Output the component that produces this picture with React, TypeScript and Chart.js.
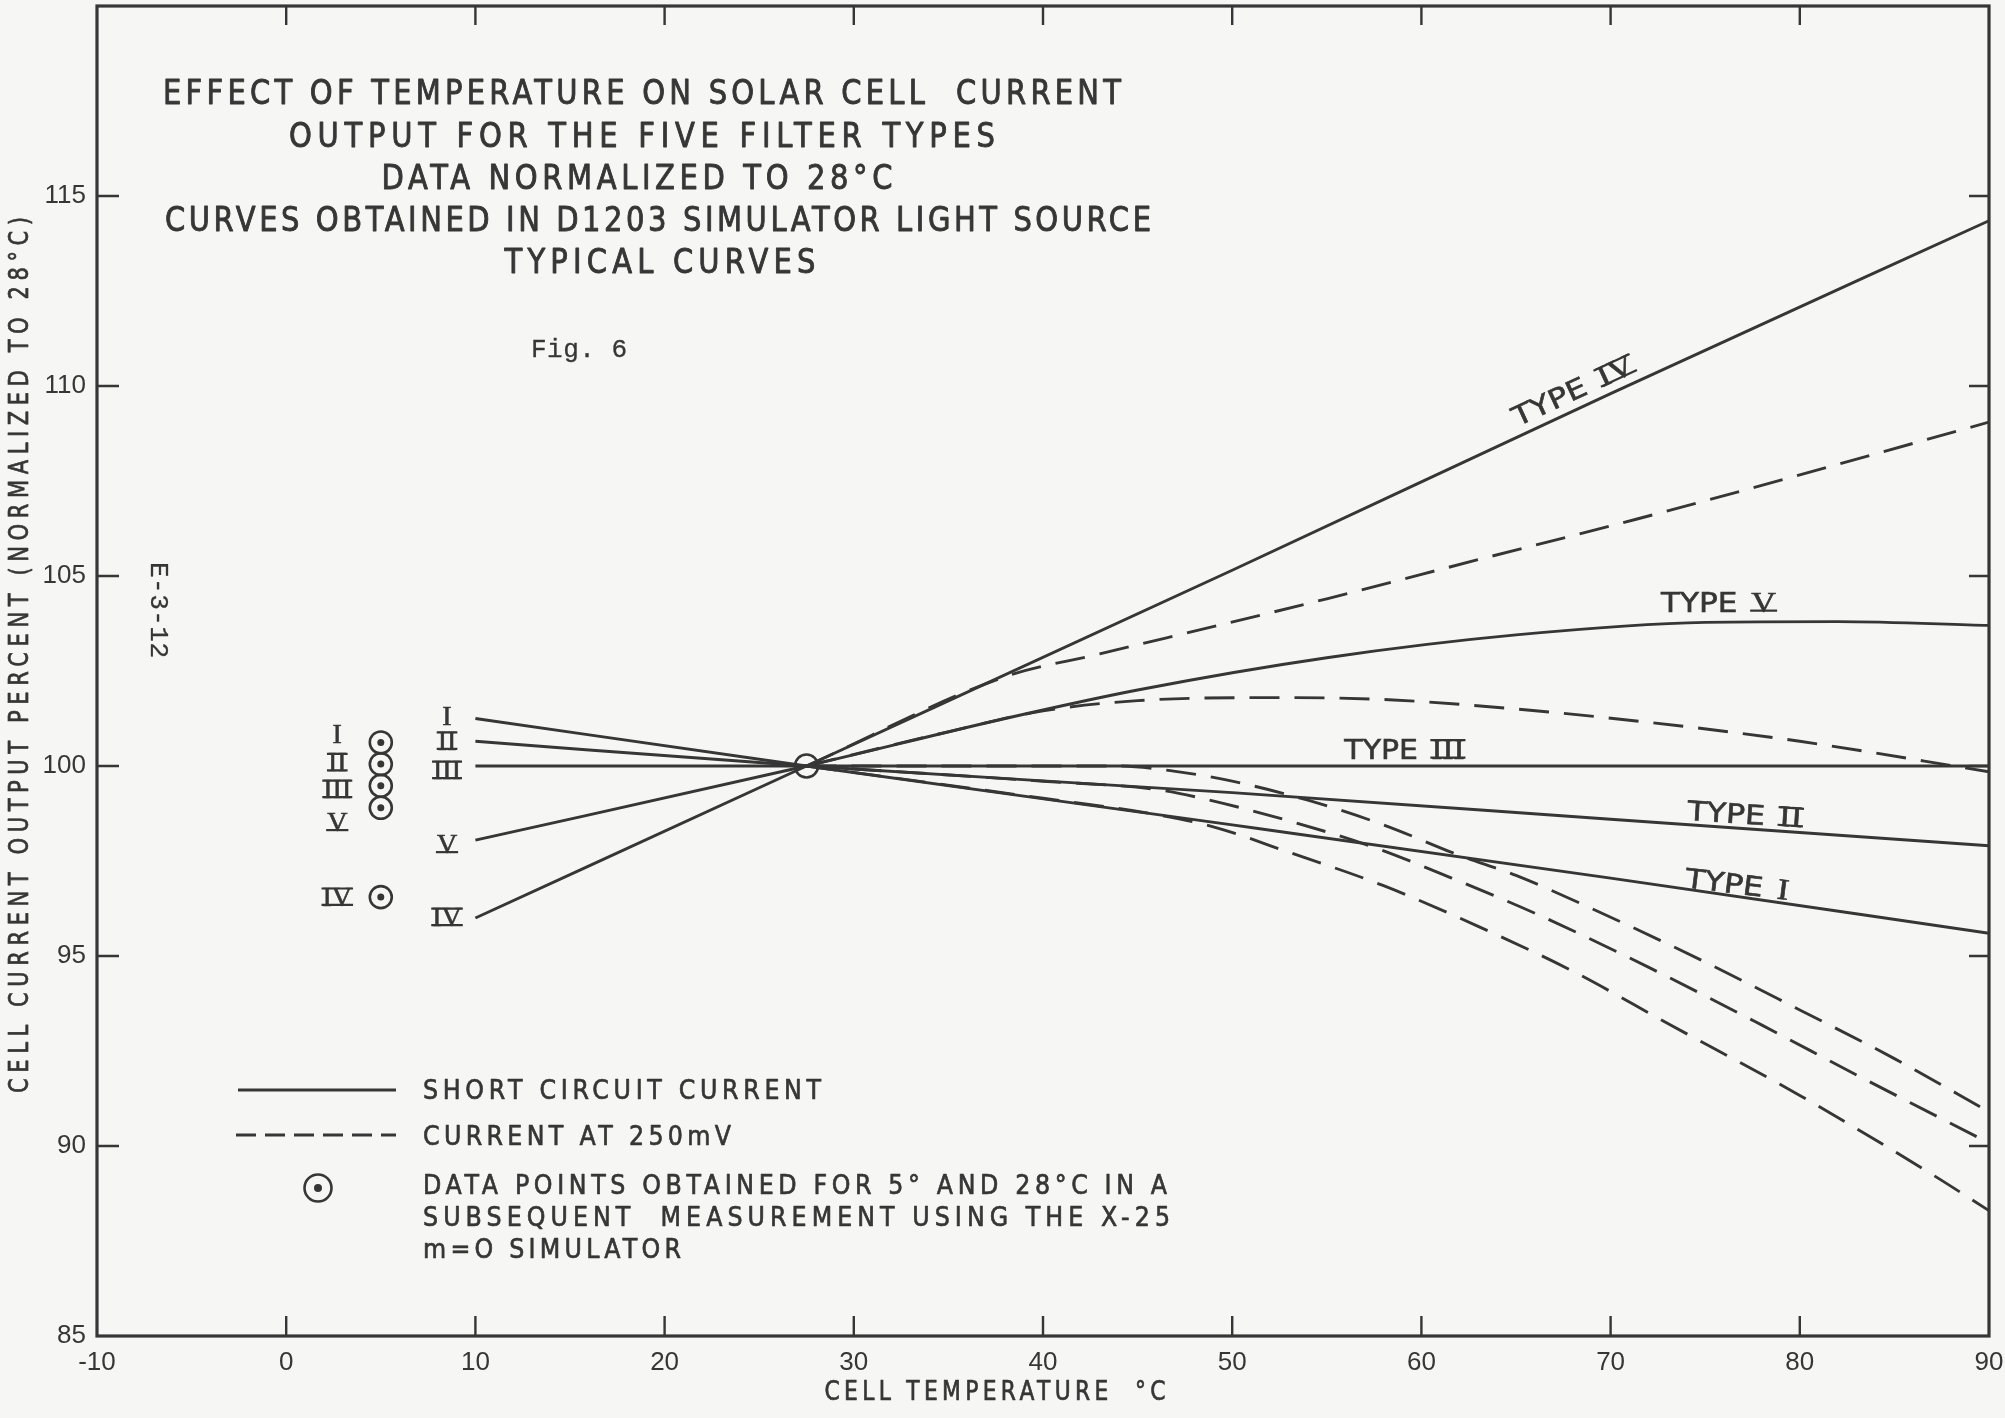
import { useEffect, useRef } from "react";
import { Chart, registerables } from "chart.js";

Chart.register(...registerables);

const INK = "#363636";
const PAPER = "#f6f6f5";
const SANS = '"DejaVu Sans", "Liberation Sans", sans-serif';
const SERIF = '"Liberation Serif", "DejaVu Serif", serif';
const MONO = '"Liberation Mono", "DejaVu Sans Mono", monospace';

// ---- axis ticks ----
const xTickValues = [-10, 0, 10, 20, 30, 40, 50, 60, 70, 80, 90];
const yTickValues = [85, 90, 95, 100, 105, 110, 115];

// ---- short circuit current (solid curves) ----
const scTempI = [10, 27.5, 50, 70, 90];
const scTypeI = [101.25, 100, 98.45, 97.05, 95.6];
const scTempII = [10, 27.5, 50, 70, 90];
const scTypeII = [100.65, 100, 99.3, 98.6, 97.9];
const scTempIII = [10, 27.5, 60, 90];
const scTypeIII = [100, 100, 100, 100];
const scTempIV = [10, 27.5, 50, 70, 90];
const scTypeIV = [96.0, 100, 105.15, 109.8, 114.35];
const scTempV = [10, 27.5, 38, 45, 55, 65, 75, 82, 90];
const scTypeV = [98.05, 100, 101.25, 102.0, 102.85, 103.45, 103.78, 103.8, 103.7];

// ---- current at 250 mV (dashed curves) ----
const mvTempI = [27.5, 40, 46, 49, 53, 58, 63, 68, 73, 80, 87, 90];
const mvTypeI = [100, 99.15, 98.72, 98.4, 97.73, 96.85, 95.78, 94.6, 93.23, 91.33, 89.25, 88.3];
const mvTempII = [27.5, 40, 46, 48.3, 53.4, 57.6, 61.6, 66.2, 72.1, 78, 83, 90];
const mvTypeII = [100, 99.6, 99.38, 99.16, 98.5, 97.84, 97.05, 96.08, 94.68, 93.18, 91.87, 90.08];
const mvTempIII = [27.5, 44, 47, 50, 54, 58, 62, 65, 69, 75, 80, 85, 90];
const mvTypeIII = [100, 100, 99.86, 99.6, 99.1, 98.45, 97.65, 97.12, 96.25, 94.84, 93.58, 92.3, 90.9];
const mvTempIV = [27.5, 38, 43, 55, 63, 71.4, 80, 90];
const mvTypeIV = [100, 102.35, 102.95, 104.4, 105.43, 106.5, 107.66, 109.05];
const mvTempV = [27.5, 35, 40, 45, 52, 58, 65, 72, 80, 90];
const mvTypeV = [100, 100.9, 101.45, 101.72, 101.8, 101.75, 101.5, 101.15, 100.65, 99.85];

// ---- data points of the subsequent X-25 measurement ----
const checkTemps = [5, 5, 5, 5, 5];
const checkValues = [100.62, 100.05, 99.48, 98.9, 96.55];
const refTemps = [27.5];
const refValues = [100];

// ---- numeral labels ----
const checkNumerals = ["I", "II", "III", "V", "IV"];
const checkNumeralValues = [100.85, 100.1, 99.4, 98.53, 96.56];
const curveNumerals = ["I", "II", "III", "V", "IV"];
const curveNumeralValues = [101.32, 100.67, 99.9, 97.95, 96.03];

const typeNumerals = ["IV", "V", "III", "II", "I"];
const typeTemps = [68.0, 75.7, 59.1, 77.1, 76.7];
const typeValues = [109.89, 104.32, 100.45, 98.74, 96.9];

const titleLines = [
  "EFFECT OF TEMPERATURE ON SOLAR CELL  CURRENT",
  "OUTPUT FOR THE FIVE FILTER TYPES",
  "DATA NORMALIZED TO 28°C",
  "CURVES OBTAINED IN D1203 SIMULATOR LIGHT SOURCE",
  "TYPICAL CURVES",
];
const legendTexts = [
  "SHORT CIRCUIT CURRENT",
  "CURRENT AT 250mV",
  "DATA POINTS OBTAINED FOR 5° AND 28°C IN A",
  "SUBSEQUENT  MEASUREMENT USING THE X-25",
  "m=O SIMULATOR",
];

// ---- layout (pixels / styles) ----
const titleLayout = [
  { cx: 642, cy: 92, w: 958 },
  { cx: 642, cy: 135, w: 706 },
  { cx: 637, cy: 177, w: 511 },
  { cx: 658, cy: 219, w: 986 },
  { cx: 660, cy: 261, w: 311 },
];
const legendLayout = [
  { x: 423, cy: 1089, w: 398 },
  { x: 423, cy: 1135, w: 308 },
  { x: 423, cy: 1184, w: 744 },
  { x: 423, cy: 1216, w: 747 },
  { x: 423, cy: 1248, w: 258 },
];
const typeLayout = [
  { angle: -24.9, w: 131 },
  { angle: 0, w: 115 },
  { angle: 0, w: 120 },
  { angle: 3.6, w: 115 },
  { angle: 7.0, w: 104 },
];

const zip = (xs: number[], ys: number[]) => xs.map((x, i) => ({ x, y: ys[i] }));

function solid(label: string, xs: number[], ys: number[]) {
  return {
    label,
    data: zip(xs, ys),
    borderColor: INK,
    borderWidth: 2.9,
    pointRadius: 0,
    cubicInterpolationMode: "monotone",
    fill: false,
  };
}
function dashed(label: string, xs: number[], ys: number[]) {
  return { ...solid(label, xs, ys), borderDash: [30, 15], borderWidth: 2.9 };
}

function fitText(
  ctx: CanvasRenderingContext2D,
  text: string,
  cx: number,
  cy: number,
  width: number,
  size: number,
  family: string,
  squeeze = 0.82,
  angle = 0,
  capRatio = 0.73,
  bold = 0.7
) {
  ctx.save();
  ctx.font = `${size}px ${family}`;
  ctx.textAlign = "left";
  ctx.textBaseline = "alphabetic";
  (ctx as any).letterSpacing = "0px";
  const natural = ctx.measureText(text).width;
  const n = Math.max(text.length - 1, 1);
  const spacing = (width / squeeze - natural) / n;
  (ctx as any).letterSpacing = `${spacing}px`;
  const measured = ctx.measureText(text).width;
  const trailing = (measured - natural) / text.length;
  const eff = measured - trailing;
  const s = width / eff;
  ctx.translate(cx, cy);
  ctx.rotate((angle * Math.PI) / 180);
  ctx.scale(s, 1);
  ctx.fillText(text, -eff / 2, (capRatio * size) / 2);
  if (bold > 0) {
    ctx.lineWidth = bold;
    ctx.lineJoin = "round";
    ctx.strokeText(text, -eff / 2, (capRatio * size) / 2);
  }
  ctx.restore();
}

function drawRoman(ctx: CanvasRenderingContext2D, txt: string, x: number, cy: number, size: number, align: "center" | "left" = "center") {
  ctx.save();
  ctx.font = `${size}px ${SERIF}`;
  ctx.textBaseline = "alphabetic";
  ctx.textAlign = "left";
  const w = ctx.measureText(txt).width;
  const capH = 0.66 * size;
  const x0 = align === "center" ? x - w / 2 : x;
  ctx.fillText(txt, x0, cy + capH / 2);
  ctx.lineWidth = 0.6;
  ctx.strokeText(txt, x0, cy + capH / 2);
  ctx.lineWidth = 2.2;
  ctx.beginPath();
  if (txt.length > 1) {
    ctx.moveTo(x0 - 1, cy - capH / 2 + 1);
    ctx.lineTo(x0 + w + 1, cy - capH / 2 + 1);
  }
  if (txt.length > 1 || txt === "V") {
    ctx.moveTo(x0 - 1, cy + capH / 2 - 1);
    ctx.lineTo(x0 + w + 1, cy + capH / 2 - 1);
  }
  ctx.stroke();
  ctx.restore();
  return w;
}

function drawTypeLabel(ctx: CanvasRenderingContext2D, cx: number, cy: number, angle: number, numeral: string, width: number, size: number) {
  ctx.save();
  ctx.translate(cx, cy);
  ctx.rotate((angle * Math.PI) / 180);
  ctx.font = `${size}px ${SANS}`;
  const wT = ctx.measureText("TYPE").width;
  ctx.font = `${size * 1.1}px ${SERIF}`;
  const wN = ctx.measureText(numeral).width;
  const gap = size * 0.45;
  const total = wT + gap + wN;
  const s = width / total;
  ctx.scale(s, 1);
  const x0 = -total / 2;
  ctx.font = `${size}px ${SANS}`;
  ctx.textBaseline = "alphabetic";
  ctx.fillText("TYPE", x0, (0.73 * size) / 2);
  ctx.lineWidth = 0.6;
  ctx.strokeText("TYPE", x0, (0.73 * size) / 2);
  drawRoman(ctx, numeral, x0 + wT + gap, 0, size * 1.1, "left");
  ctx.restore();
}

const decorPlugin = {
  id: "decor",
  beforeDraw(chart: any) {
    const { ctx, width, height } = chart;
    ctx.save();
    ctx.fillStyle = PAPER;
    ctx.fillRect(0, 0, width, height);
    ctx.restore();
  },
  afterDraw(chart: any) {
    const { ctx, chartArea: a, scales } = chart;
    const xs = scales.x;
    const ys = scales.y;
    ctx.save();
    ctx.strokeStyle = INK;
    ctx.fillStyle = INK;

    // frame
    ctx.lineWidth = 3.2;
    ctx.strokeRect(a.left, a.top, a.right - a.left, a.bottom - a.top);

    // inward ticks on all four sides
    ctx.lineWidth = 2.4;
    ctx.beginPath();
    for (const v of xTickValues) {
      const px = xs.getPixelForValue(v);
      if (px <= a.left + 2 || px >= a.right - 2) continue;
      ctx.moveTo(px, a.bottom);
      ctx.lineTo(px, a.bottom - 20);
      ctx.moveTo(px, a.top);
      ctx.lineTo(px, a.top + 19);
    }
    for (const v of yTickValues) {
      const py = ys.getPixelForValue(v);
      if (py >= a.bottom - 2 || py <= a.top + 2) continue;
      ctx.moveTo(a.left, py);
      ctx.lineTo(a.left + 22, py);
      ctx.moveTo(a.right, py);
      ctx.lineTo(a.right - 20, py);
    }
    ctx.stroke();

    // title block
    titleLines.forEach((t, i) => {
      const L = titleLayout[i];
      fitText(ctx, t, L.cx, L.cy, L.w, 33, SANS, 0.88, 0, 0.73, 0.9);
    });
    fitText(ctx, "Fig. 6", 579, 348, 96, 26, MONO, 1, 0, 0.66, 0.3);
    fitText(ctx, "E-3-12", 160, 610, 96, 26, MONO, 1, 90, 0.66, 0.3);

    // axis titles
    fitText(ctx, "CELL TEMPERATURE  °C", 995, 1391, 341, 26, SANS, 0.84, 0, 0.73, 0.7);
    fitText(ctx, "CELL CURRENT OUTPUT PERCENT (NORMALIZED TO 28°C)", 18, 655, 876, 27, SANS, 0.78, -90, 0.73, 0.7);

    // numeral labels next to the data points and curve starts
    checkNumerals.forEach((n, i) => {
      drawRoman(ctx, n, xs.getPixelForValue(2.7), ys.getPixelForValue(checkNumeralValues[i]), 28);
    });
    curveNumerals.forEach((n, i) => {
      drawRoman(ctx, n, xs.getPixelForValue(8.5), ys.getPixelForValue(curveNumeralValues[i]), 28);
    });

    // TYPE labels
    typeNumerals.forEach((n, i) => {
      const L = typeLayout[i];
      drawTypeLabel(ctx, xs.getPixelForValue(typeTemps[i]), ys.getPixelForValue(typeValues[i]), L.angle, n, L.w, 27);
    });

    // legend
    ctx.lineWidth = 2.8;
    ctx.beginPath();
    ctx.moveTo(238, 1090);
    ctx.lineTo(396, 1090);
    ctx.stroke();
    ctx.setLineDash([20, 9]);
    ctx.beginPath();
    ctx.moveTo(236, 1135);
    ctx.lineTo(396, 1135);
    ctx.stroke();
    ctx.setLineDash([]);
    ctx.lineWidth = 2.6;
    ctx.beginPath();
    ctx.arc(318, 1188, 13.5, 0, Math.PI * 2);
    ctx.stroke();
    ctx.beginPath();
    ctx.arc(318, 1188, 4, 0, Math.PI * 2);
    ctx.fill();
    legendTexts.forEach((t, i) => {
      const L = legendLayout[i];
      fitText(ctx, t, L.x + L.w / 2, L.cy, L.w, 27, SANS, 0.88, 0, 0.73, 0.7);
    });

    ctx.restore();
  },
};

export default function App() {
  const ref = useRef<HTMLCanvasElement>(null);
  useEffect(() => {
    document.body.style.margin = "0";
    document.body.style.background = PAPER;
    const canvas = ref.current!;
    const chart = new Chart(canvas, {
      type: "line",
      data: {
        datasets: [
          solid("Type I short circuit", scTempI, scTypeI),
          solid("Type II short circuit", scTempII, scTypeII),
          solid("Type III short circuit", scTempIII, scTypeIII),
          solid("Type IV short circuit", scTempIV, scTypeIV),
          solid("Type V short circuit", scTempV, scTypeV),
          dashed("Type I 250 mV", mvTempI, mvTypeI),
          dashed("Type II 250 mV", mvTempII, mvTypeII),
          dashed("Type III 250 mV", mvTempIII, mvTypeIII),
          dashed("Type IV 250 mV", mvTempIV, mvTypeIV),
          dashed("Type V 250 mV", mvTempV, mvTypeV),
          {
            label: "X-25 data points",
            data: zip(checkTemps, checkValues),
            showLine: false,
            pointRadius: 11,
            pointBorderWidth: 2.6,
            pointBorderColor: INK,
            pointBackgroundColor: "rgba(0,0,0,0)",
          },
          {
            label: "X-25 data point centres",
            data: zip(checkTemps, checkValues),
            showLine: false,
            pointRadius: 3.5,
            pointBorderWidth: 0,
            pointBackgroundColor: INK,
          },
          {
            label: "28 °C reference",
            data: zip(refTemps, refValues),
            showLine: false,
            pointRadius: 11.5,
            pointBorderWidth: 2.6,
            pointBorderColor: INK,
            pointBackgroundColor: "rgba(0,0,0,0)",
          },
        ] as any,
      },
      options: {
        responsive: false,
        animation: false,
        devicePixelRatio: 1,
        events: [],
        layout: { autoPadding: false, padding: { left: 0, right: 16, top: 6, bottom: 0 } },
        plugins: { legend: { display: false }, tooltip: { enabled: false } },
        scales: {
          x: {
            type: "linear",
            min: -10,
            max: 90,
            afterBuildTicks: (s: any) => {
              s.ticks = xTickValues.map((value) => ({ value }));
            },
            afterFit: (s: any) => {
              s.height = 82;
              s.paddingLeft = 0;
              s.paddingRight = 0;
            },
            grid: { display: false, drawTicks: false },
            border: { display: false },
            ticks: {
              color: INK,
              padding: 11,
              maxRotation: 0,
              font: { family: '"Liberation Sans", sans-serif', size: 26 },
            },
          },
          y: {
            type: "linear",
            min: 85,
            max: 120,
            afterBuildTicks: (s: any) => {
              s.ticks = yTickValues.map((value) => ({ value }));
            },
            afterFit: (s: any) => {
              s.width = 97;
              s.paddingTop = 0;
              s.paddingBottom = 0;
            },
            grid: { display: false, drawTicks: false },
            border: { display: false },
            ticks: {
              color: INK,
              padding: 11,
              font: { family: '"Liberation Sans", sans-serif', size: 26 },
            },
          },
        },
      } as any,
      plugins: [decorPlugin],
    });
    return () => chart.destroy();
  }, []);
  return <canvas ref={ref} width={2005} height={1418} style={{ display: "block", width: 2005, height: 1418 }} />;
}
